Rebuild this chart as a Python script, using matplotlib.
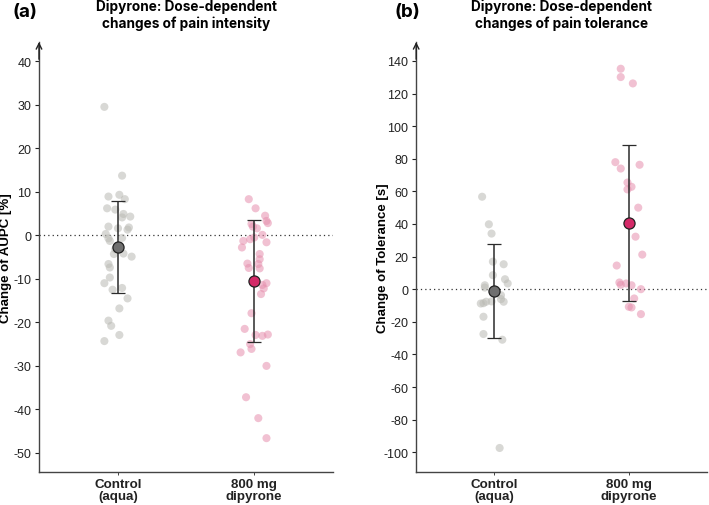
import matplotlib
matplotlib.use("Agg")
import matplotlib.pyplot as plt

plt.rcParams["font.family"] = ["Liberation Sans", "DejaVu Sans"]
plt.rcParams["axes.unicode_minus"] = False

# ---------------------------------------------------------------------------
# Data
# ---------------------------------------------------------------------------
GROUP_LABELS = ["Control\n(aqua)", "800 mg\ndipyrone"]

# (a) pain intensity, change of AUPC [%]
aupc_control = [29.5, 13.7, 8.9, 9.3, 8.3, 6.2, 5.9, 4.9, 4.3, 4.1, 2.0, 1.6,
                1.8, 1.3, 0.3, -0.7, -0.6, -1.3, -3.2, -4.3, -4.2, -4.9, -6.6,
                -7.4, -9.7, -11.0, -12.5, -12.1, -14.5, -16.8, -19.6, -20.8,
                -22.9, -24.3]
aupc_control_jit = [-0.10, 0.03, -0.07, 0.01, 0.05, -0.08, -0.02, 0.04, 0.09,
                    0.03, -0.07, 0.00, 0.08, 0.07, -0.09, -0.07, 0.03, -0.06,
                    -0.02, -0.03, 0.04, 0.10, -0.07, -0.06, -0.06, -0.10,
                    -0.04, 0.03, 0.07, 0.01, -0.07, -0.05, 0.01, -0.10]
aupc_dipyrone = [8.3, 6.2, 4.5, 3.3, 2.8, 2.6, 2.0, 1.6, 0.1, -0.5, -0.9, -1.3,
                 -1.6, -2.8, -4.3, -5.5, -6.5, -6.6, -7.5, -7.6, -11.0, -11.4,
                 -12.2, -13.5, -17.9, -21.5, -22.9, -23.1, -22.8, -25.0,
                 -26.1, -26.9, -30.0, -37.2, -42.0, -46.6]
aupc_dipyrone_jit = [-0.04, 0.01, 0.08, 0.09, 0.10, -0.02, -0.01, 0.02, 0.06,
                     0.00, -0.03, -0.08, 0.09, -0.09, 0.04, 0.04, -0.05, 0.03,
                     -0.04, 0.04, 0.09, 0.06, 0.07, 0.05, -0.02, -0.07, 0.01,
                     0.06, 0.10, -0.03, -0.02, -0.10, 0.09, -0.06, 0.03, 0.09]
aupc_mean = [-2.7, -10.55]
aupc_sd = [10.6, 14.05]

# (b) pain tolerance, change of tolerance [s]
tol_control = [56.7, 39.8, 34.1, 16.9, 15.3, 8.6, 6.1, 3.5, 2.4, 1.0, -3.7,
               -6.1, -7.7, -7.5, -7.7, -8.6, -8.8, -16.9, -27.5, -31.0, -97.4]
tol_control_jit = [-0.09, -0.04, -0.02, -0.01, 0.07, -0.01, 0.08, 0.10, -0.07,
                   -0.07, 0.05, 0.05, 0.07, -0.02, -0.06, -0.08, -0.10, -0.08,
                   -0.08, 0.06, 0.04]
tol_dipyrone = [135.2, 130.1, 126.2, 77.9, 74.0, 76.3, 65.4, 62.8, 61.2, 50.0,
                32.2, 21.2, 14.5, 4.1, 2.7, 3.5, 2.4, 0.0, -5.7, -10.8, -11.2,
                -15.3]
tol_dipyrone_jit = [-0.06, -0.06, 0.03, -0.10, -0.06, 0.08, -0.01, 0.02, -0.01,
                    0.07, 0.05, 0.10, -0.09, -0.07, -0.06, -0.02, 0.02, 0.09,
                    0.04, 0.00, 0.02, 0.09]
tol_mean = [-1.25, 40.6]
tol_sd = [28.75, 48.1]

PANELS = [
    dict(tag="(a)", tag_x=0.017, title="Dipyrone: Dose-dependent\nchanges of pain intensity",
         ylabel="Change of AUPC [%]", ylabel_x=-0.092,
         groups=[(aupc_control, aupc_control_jit), (aupc_dipyrone, aupc_dipyrone_jit)],
         mean=aupc_mean, sd=aupc_sd,
         ylim=(-54.4, 44.4), yticks=range(-50, 41, 10),
         rect=[0.055, 0.065, 0.415, 0.85]),
    dict(tag="(b)", tag_x=0.557, title="Dipyrone: Dose-dependent\nchanges of pain tolerance",
         ylabel="Change of Tolerance [s]", ylabel_x=-0.092,
         groups=[(tol_control, tol_control_jit), (tol_dipyrone, tol_dipyrone_jit)],
         mean=tol_mean, sd=tol_sd,
         ylim=(-112.2, 151.6), yticks=range(-100, 141, 20),
         rect=[0.587, 0.065, 0.41, 0.85]),
]

POINT_COLORS = ["#b9b9b3", "#e68fad"]
MEAN_COLORS = ["#6f6f6f", "#d42a68"]

fig = plt.figure(figsize=(7.09, 5.06), dpi=100)

for panel in PANELS:
    ax = fig.add_axes(panel["rect"])
    for gi, (vals, jit) in enumerate(panel["groups"]):
        xs = [gi + j for j in jit]
        ax.scatter(xs, vals, s=34, color=POINT_COLORS[gi], alpha=0.55,
                   edgecolors="none", zorder=2)
        ax.errorbar(gi, panel["mean"][gi], yerr=panel["sd"][gi], fmt="o",
                    color="#2b2b2b", ecolor="#2b2b2b", elinewidth=1.1,
                    capsize=4.8, capthick=1.1, markersize=8,
                    markerfacecolor=MEAN_COLORS[gi], markeredgecolor="#222222",
                    markeredgewidth=0.9, zorder=4)

    ax.axhline(0, color="#333333", linestyle=(0, (1, 2.5)), linewidth=0.9, zorder=1)

    ax.set_xlim(-0.58, 1.58)
    ax.set_ylim(*panel["ylim"])
    ax.set_yticks(list(panel["yticks"]))
    ax.set_xticks([0, 1])
    ax.set_xticklabels(GROUP_LABELS, fontweight="bold", fontsize=9.6,
                       linespacing=1.05)
    ax.tick_params(axis="y", labelsize=9, length=3, width=0.8, pad=2.5,
                   colors="#222222")
    ax.tick_params(axis="x", length=2, width=0.6, pad=2, colors="#222222")
    ax.set_ylabel(panel["ylabel"], fontweight="bold", fontsize=9.5)
    ax.yaxis.set_label_coords(panel["ylabel_x"], 0.5)

    for side in ("top", "right"):
        ax.spines[side].set_visible(False)
    for side in ("left", "bottom"):
        ax.spines[side].set_color("#444444")
        ax.spines[side].set_linewidth(1.0)

    # open arrow head on top of the y axis
    ax.annotate("", xy=(0, 1.0), xytext=(0, 0.96), xycoords="axes fraction",
                arrowprops=dict(arrowstyle="->", color="#222222", lw=1.0,
                                shrinkA=0, shrinkB=0), annotation_clip=False)

    ax.set_title(panel["title"], fontweight="bold", fontsize=9.8, pad=11,
                 linespacing=1.2, family=["Inter", "DejaVu Sans"])
    fig.text(panel["tag_x"], 0.975, panel["tag"], fontsize=13.5, fontweight="bold",
             family=["Inter", "DejaVu Sans"], va="center", ha="left")

fig.savefig("out.png", dpi=100)
